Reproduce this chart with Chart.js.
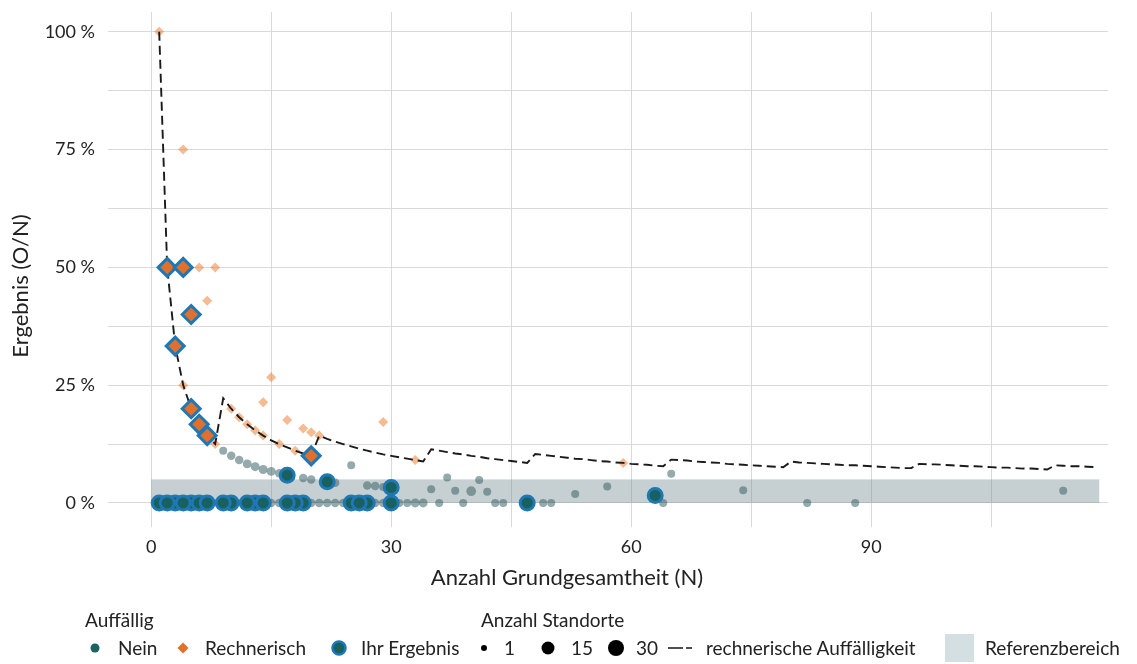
<!DOCTYPE html>
<html lang="de">
<head>
<meta charset="utf-8">
<title>Ergebnis nach Anzahl Grundgesamtheit</title>
<script src="https://cdn.jsdelivr.net/npm/chart.js@4.4.0/dist/chart.umd.min.js"></script>
<style>
  html, body { margin: 0; padding: 0; background: #fff; }
  #wrap { position: relative; width: 1137px; height: 664px; font-family: Lato, "Open Sans", sans-serif; color: #222; }
  #chart { position: absolute; left: 0; top: 0; }
  #symbols { position: absolute; left: 0; top: 0; pointer-events: none; }
  .lbl { position: absolute; white-space: nowrap; font-size: 19px; line-height: 22px; }
  .axis-title { position: absolute; white-space: nowrap; font-size: 22px; line-height: 26px; }
</style>
</head>
<body>
<div id="wrap">
  <canvas id="chart" width="1137" height="664"></canvas>

  <div class="axis-title" style="left:567px; top:564px; transform:translateX(-50%);">Anzahl Grundgesamtheit (N)</div>
  <div class="axis-title" style="left:20px; top:286px; transform:translate(-50%,-50%) rotate(-90deg);">Ergebnis (O/N)</div>

  <!-- legend -->
  <svg id="symbols" width="1137" height="664">
    <circle cx="95" cy="648" r="4.5" fill="#1b6262"/>
    <polygon points="183,642.5 188.5,648 183,653.5 177.5,648" fill="#e0702b"/>
    <circle cx="339" cy="648" r="6.5" fill="#17615f" stroke="#1f77b4" stroke-width="2.5"/>
    <circle cx="484" cy="648" r="3" fill="#000"/>
    <circle cx="548" cy="648" r="6.5" fill="#000"/>
    <circle cx="616" cy="648" r="8" fill="#000"/>
    <line x1="668" y1="648" x2="683" y2="648" stroke="#222" stroke-width="1.6"/>
    <line x1="686" y1="648" x2="692" y2="648" stroke="#222" stroke-width="1.6"/>
    <rect x="945" y="634" width="29" height="28" fill="#d3dfe0"/>
  </svg>
  <div class="lbl" style="left:85px; top:609px;">Auffällig</div>
  <div class="lbl" style="left:481px; top:609px;">Anzahl Standorte</div>
  <div class="lbl" style="left:118px; top:637px;">Nein</div>
  <div class="lbl" style="left:205px; top:637px;">Rechnerisch</div>
  <div class="lbl" style="left:361px; top:637px;">Ihr Ergebnis</div>
  <div class="lbl" style="left:504px; top:637px;">1</div>
  <div class="lbl" style="left:571px; top:637px;">15</div>
  <div class="lbl" style="left:636px; top:637px;">30</div>
  <div class="lbl" style="left:706px; top:637px;">rechnerische Auffälligkeit</div>
  <div class="lbl" style="left:985px; top:637px;">Referenzbereich</div>
</div>

<script>
// Andere Standorte, nicht auffällig: Grundgesamtheit, Ergebnis in %, Anzahl Standorte
const neinN = [9, 10, 11, 12, 13, 14, 15, 16, 19, 20, 23, 25, 27, 28, 29, 35, 37, 38, 40, 41, 42, 53, 57, 65, 74, 114,
               15, 16, 20, 21, 22, 23, 24, 28, 29, 31, 32, 33, 34, 36, 39, 43, 44, 49, 50, 64, 82, 88];
const neinPct = [11.1, 10, 9.1, 8.3, 7.7, 7.1, 6.7, 6.3, 5.3, 5, 4.3, 8, 3.7, 3.6, 3.4, 2.9, 5.4, 2.6, 2.5, 4.9, 2.4, 1.9, 3.5, 6.2, 2.7, 2.6,
                 0, 0, 0, 0, 0, 0, 0, 0, 0, 0, 0, 0, 0, 0, 0, 0, 0, 0, 0, 0, 0, 0];
const neinAnzahl = [1, 2, 2, 3, 3, 3, 3, 2, 2, 2, 2, 1, 2, 2, 1, 1, 1, 1, 5, 1, 1, 1, 1, 1, 1, 1,
                    2, 2, 2, 2, 2, 2, 2, 2, 2, 1, 1, 3, 3, 1, 1, 1, 1, 1, 1, 1, 1, 1];

// Andere Standorte, rechnerisch auffällig
const rechN   = [1, 4, 6, 8, 7, 4, 8, 10, 11, 12, 13, 14, 14, 15, 16, 17, 18, 19, 20, 21, 29, 33, 59];
const rechPct = [100, 75, 50, 50, 42.9, 25, 12.5, 20, 18.2, 16.7, 15.4, 14.3, 21.4, 26.7, 12.5, 17.6, 11.1, 15.8, 15, 14.3, 17.2, 9.1, 8.5];

// Ihr Ergebnis, rechnerisch auffällig
const ihrRechN   = [2, 4, 5, 3, 5, 6, 7, 20];
const ihrRechPct = [50, 50, 40, 33.3, 20, 16.7, 14.3, 10];

// Ihr Ergebnis, nicht auffällig
const ihrNeinN   = [1, 3, 2, 5, 6, 4, 7, 10, 9, 13, 12, 14, 19, 18, 17, 25, 27, 26, 30, 47, 17, 22, 30, 63];
const ihrNeinPct = [0, 0, 0, 0, 0, 0, 0, 0, 0, 0, 0, 0, 0, 0, 0, 0, 0, 0, 0, 0, 5.9, 4.5, 3.3, 1.6];

// Schwelle rechnerische Auffälligkeit in %, für N = 1 ... 118
const schwellePct = [
  100, 50, 33.3, 25, 20, 16.7, 14.3, 12.5,
  22.2, 20, 18.2, 16.7, 15.4, 14.3, 13.3, 12.5, 11.8, 11.1, 10.5, 10,
  14.3, 13.6, 13.0, 12.5, 12.0, 11.5, 11.1, 10.7, 10.3, 10.0, 9.7, 9.4, 9.1, 8.8,
  11.4, 11.1, 10.8, 10.5, 10.3, 10.0, 9.8, 9.5, 9.3, 9.1, 8.9, 8.7, 8.5,
  10.4, 10.2, 10.0, 9.8, 9.6, 9.4, 9.3, 9.1, 8.9, 8.8, 8.6, 8.5, 8.3, 8.2, 8.1, 7.9, 7.8,
  9.2, 9.1, 9.0, 8.8, 8.7, 8.6, 8.5, 8.3, 8.2, 8.1, 8.0, 7.9, 7.8, 7.7, 7.6,
  8.8, 8.6, 8.5, 8.4, 8.3, 8.2, 8.1, 8.0, 8.0, 7.9, 7.8, 7.7, 7.6, 7.5, 7.4, 7.4,
  8.3, 8.2, 8.2, 8.1, 8.0, 7.9, 7.8, 7.8, 7.7, 7.6, 7.5, 7.5, 7.4, 7.3, 7.3, 7.2, 7.1,
  8.0, 7.9, 7.8, 7.8, 7.7, 7.6
];

// Referenzbereich: 0 bis 5 %, über N = 0 ... 118.5
const refN   = [0, 118.5];
const refPct = [0, 5];

// Achsen
const xRange = [-5.4, 119.6];
const yRange = [-5.1, 104.2];

const pts = (xs, ys) => xs.map((x, i) => ({ x, y: ys[i] }));
// Flächentreue Größe nach Anzahl Standorte
const radiusFor = n => Math.sqrt(16 + 1.9 * (n - 1));

const refBand = {
  id: 'refBand',
  beforeDatasetsDraw(chart) {
    const { ctx, scales: { x, y } } = chart;
    const x0 = x.getPixelForValue(refN[0]), x1 = x.getPixelForValue(refN[1]);
    const y0 = y.getPixelForValue(refPct[1]), y1 = y.getPixelForValue(refPct[0]);
    ctx.save();
    ctx.fillStyle = 'rgba(113,137,142,0.4)';
    ctx.fillRect(x0, y0, x1 - x0, y1 - y0);
    ctx.restore();
  }
};

// keine zusätzlichen Ränder für Tick-Beschriftungen
const noLabelPadding = s => {
  s.paddingTop = 0; s.paddingBottom = 0; s.paddingLeft = 0; s.paddingRight = 0;
};

function draw() {
  const ctx = document.getElementById('chart').getContext('2d');
  new Chart(ctx, {
    type: 'scatter',
    data: {
      datasets: [
        {
          label: 'Ihr Ergebnis (Rechnerisch)',
          data: pts(ihrRechN, ihrRechPct),
          pointStyle: 'rectRot',
          pointRadius: 9,
          backgroundColor: '#e0702b',
          borderColor: '#1f77b4',
          borderWidth: 3,
          order: 0
        },
        {
          label: 'Ihr Ergebnis (Nein)',
          data: pts(ihrNeinN, ihrNeinPct),
          pointStyle: 'circle',
          pointRadius: 7,
          backgroundColor: '#17615f',
          borderColor: '#1f77b4',
          borderWidth: 3,
          order: 0
        },
        {
          label: 'rechnerische Auffälligkeit',
          data: pts(schwellePct.map((_, i) => i + 1), schwellePct),
          showLine: true,
          pointRadius: 0,
          borderColor: '#1a1a1a',
          borderWidth: 1.9,
          borderDash: [9, 5],
          tension: 0,
          order: 1
        },
        {
          label: 'Rechnerisch',
          data: pts(rechN, rechPct),
          pointStyle: 'rectRot',
          pointRadius: 5,
          backgroundColor: 'rgba(235,120,40,0.5)',
          borderWidth: 0,
          order: 2
        },
        {
          label: 'Nein',
          data: pts(neinN, neinPct),
          pointStyle: 'circle',
          pointRadius: neinAnzahl.map(radiusFor),
          backgroundColor: 'rgba(60,100,105,0.55)',
          borderWidth: 0,
          order: 3
        }
      ]
    },
    options: {
      responsive: false,
      animation: false,
      devicePixelRatio: 1,
      events: [],
      layout: { padding: { top: 5, right: 29, left: 0, bottom: 0 } },
      plugins: { legend: { display: false }, tooltip: { enabled: false } },
      scales: {
        x: {
          type: 'linear',
          min: xRange[0],
          max: xRange[1],
          afterFit: s => { s.height = 137; noLabelPadding(s); },
          border: { display: false },
          grid: { color: '#d9d9d9', lineWidth: 1, drawTicks: false },
          ticks: {
            stepSize: 15,
            includeBounds: false,
            autoSkip: false,
            maxRotation: 0,
            padding: 9,
            color: '#222',
            font: { family: 'Lato', size: 18 },
            callback: v => (v % 30 === 0 ? String(v) : '')
          }
        },
        y: {
          type: 'linear',
          min: yRange[0],
          max: yRange[1],
          afterFit: s => { s.width = 108; noLabelPadding(s); },
          border: { display: false },
          grid: { color: '#d9d9d9', lineWidth: 1, drawTicks: false },
          ticks: {
            stepSize: 12.5,
            includeBounds: false,
            autoSkip: false,
            padding: 13,
            color: '#222',
            font: { family: 'Lato', size: 18 },
            callback: v => (v % 25 === 0 ? v + ' %' : '')
          }
        }
      }
    },
    plugins: [refBand]
  });
}

if (document.fonts && document.fonts.load) {
  document.fonts.load('16px Lato').then(draw, draw);
} else {
  draw();
}
</script>
</body>
</html>
